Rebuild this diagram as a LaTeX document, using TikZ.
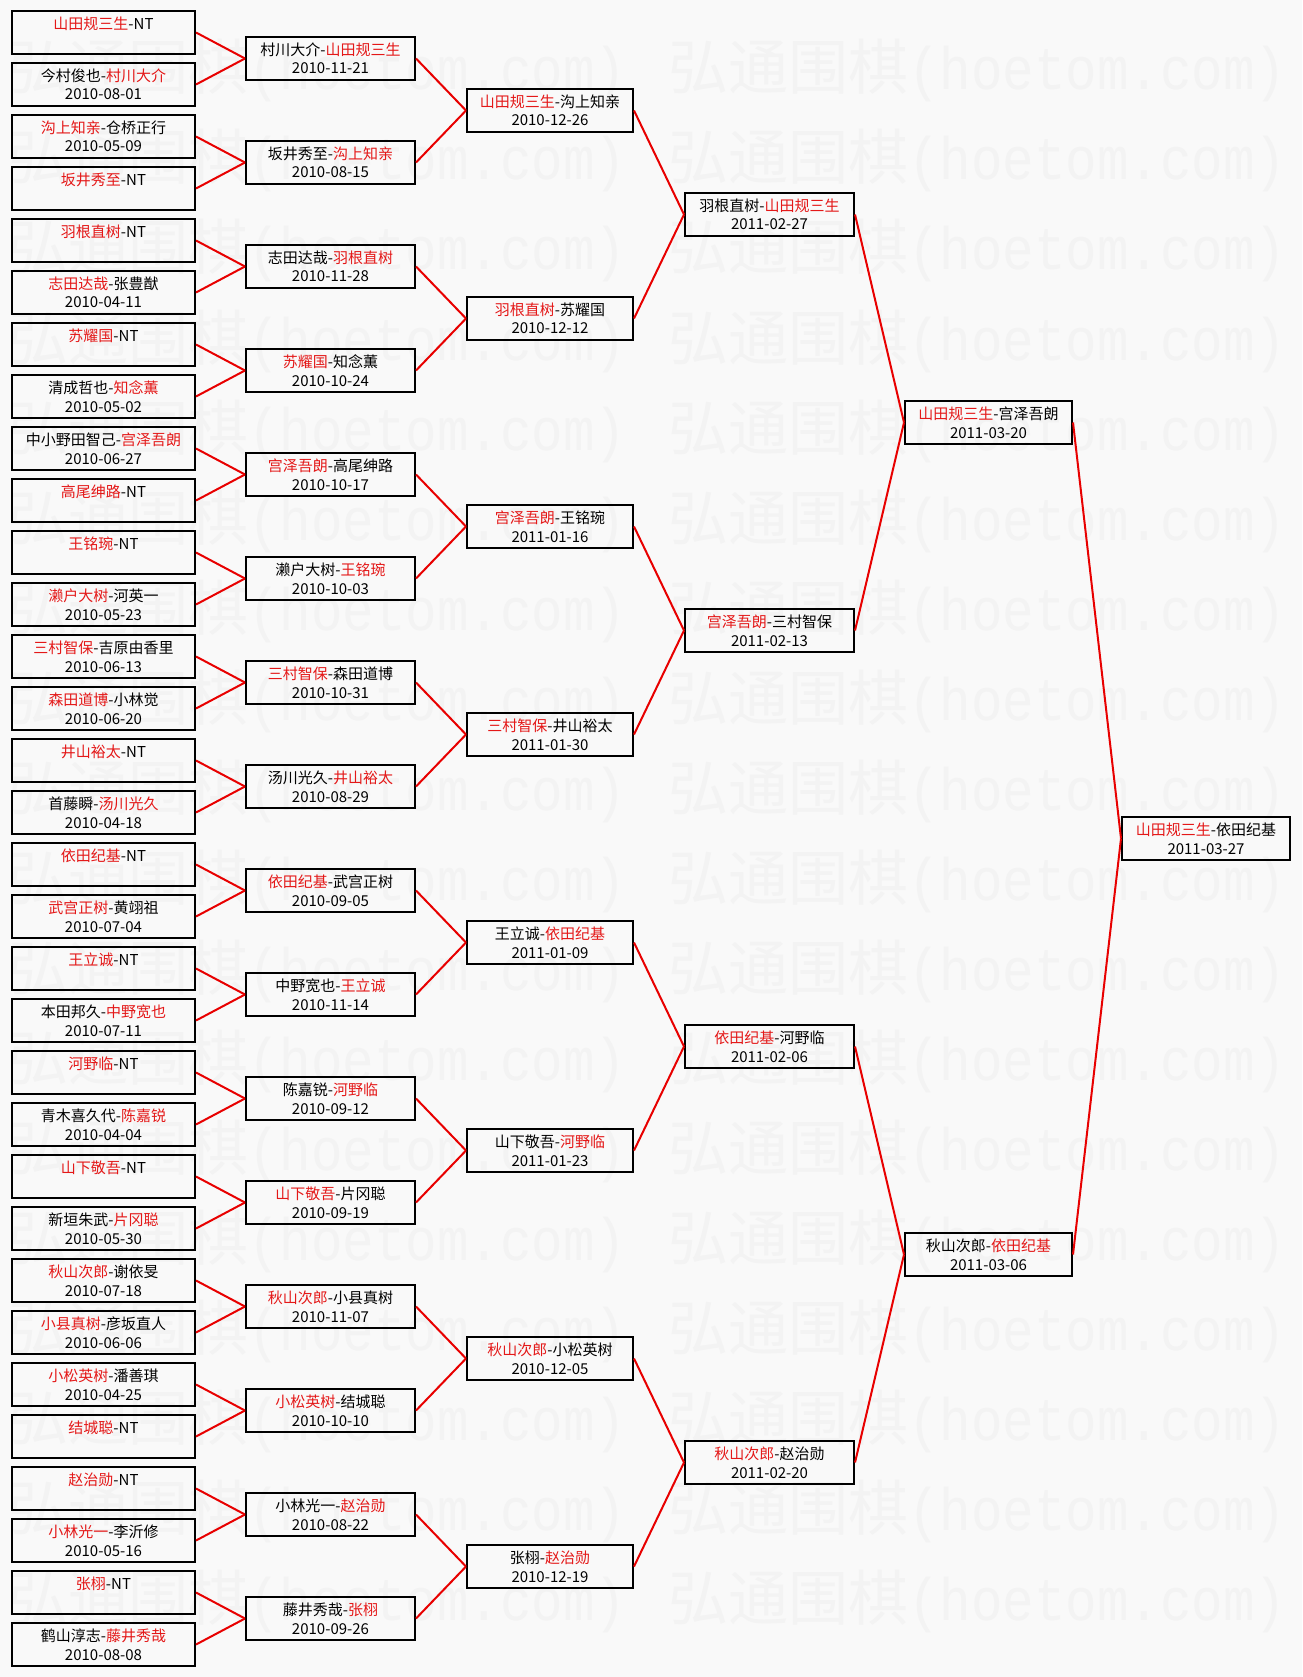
\documentclass[tikz,border=0pt]{standalone}
\usepackage{fontspec}
\setmainfont{Noto Sans CJK SC}
\newfontfamily\wmlat[FakeStretch=0.875]{Liberation Mono}
\definecolor{winred}{RGB}{228,24,24}
\definecolor{linered}{RGB}{232,0,0}
\definecolor{bgcol}{RGB}{249,249,249}
\definecolor{wmcol}{RGB}{243,243,243}
\newcommand\W[1]{\textcolor{winred}{#1}}
\newcommand\tl[2]{\rule{0pt}{18.5pt}#1\\#2\rule[-6pt]{0pt}{0pt}}
\newcommand\wmtext{弘通围棋{\wmlat (hoetom.com)}}
\tikzset{
  mbox/.style={draw=black, line width=2pt, minimum height=43pt, inner sep=0pt,
    align=center, font=\fontsize{15}{18.5}\selectfont},
  colA/.style={mbox, minimum width=183pt},
  colB/.style={mbox, minimum width=169pt},
  colC/.style={mbox, minimum width=166pt},
  colD/.style={mbox, minimum width=169pt},
  colE/.style={mbox, minimum width=167pt},
  colF/.style={mbox, minimum width=168pt},
  conn/.style={draw=linered, line width=2pt},
  wmark/.style={text=wmcol, inner sep=0pt, anchor=base west, font=\fontsize{60}{60}\selectfont}
}
\begin{document}
\begin{tikzpicture}[x=1pt,y=-1pt]
\useasboundingbox (0,0) rectangle (1302,1677);
\fill[bgcol] (0,0) rectangle (1302,1677);
% watermark
\foreach \k in {0,...,17} {
  \node[wmark] (wmL\k) at (8,{90+90*\k}) {\wmtext};
  \node[wmark] (wmR\k) at (668,{90+90*\k}) {\wmtext};
}
% column 1
\node[colA] (a1) at (103.5,32.5) {\tl{\W{山田规三生}-NT}{}};
\node[colA] (a2) at (103.5,84.5) {\tl{今村俊也-\W{村川大介}}{2010-08-01}};
\node[colA] (a3) at (103.5,136.5) {\tl{\W{沟上知亲}-仓桥正行}{2010-05-09}};
\node[colA] (a4) at (103.5,188.5) {\tl{\W{坂井秀至}-NT}{}};
\node[colA] (a5) at (103.5,240.5) {\tl{\W{羽根直树}-NT}{}};
\node[colA] (a6) at (103.5,292.5) {\tl{\W{志田达哉}-张豊猷}{2010-04-11}};
\node[colA] (a7) at (103.5,344.5) {\tl{\W{苏耀国}-NT}{}};
\node[colA] (a8) at (103.5,396.5) {\tl{清成哲也-\W{知念薫}}{2010-05-02}};
\node[colA] (a9) at (103.5,448.5) {\tl{中小野田智己-\W{宫泽吾朗}}{2010-06-27}};
\node[colA] (a10) at (103.5,500.5) {\tl{\W{高尾绅路}-NT}{}};
\node[colA] (a11) at (103.5,552.5) {\tl{\W{王铭琬}-NT}{}};
\node[colA] (a12) at (103.5,604.5) {\tl{\W{濑户大树}-河英一}{2010-05-23}};
\node[colA] (a13) at (103.5,656.5) {\tl{\W{三村智保}-吉原由香里}{2010-06-13}};
\node[colA] (a14) at (103.5,708.5) {\tl{\W{森田道博}-小林觉}{2010-06-20}};
\node[colA] (a15) at (103.5,760.5) {\tl{\W{井山裕太}-NT}{}};
\node[colA] (a16) at (103.5,812.5) {\tl{首藤瞬-\W{汤川光久}}{2010-04-18}};
\node[colA] (a17) at (103.5,864.5) {\tl{\W{依田纪基}-NT}{}};
\node[colA] (a18) at (103.5,916.5) {\tl{\W{武宫正树}-黄翊祖}{2010-07-04}};
\node[colA] (a19) at (103.5,968.5) {\tl{\W{王立诚}-NT}{}};
\node[colA] (a20) at (103.5,1020.5) {\tl{本田邦久-\W{中野宽也}}{2010-07-11}};
\node[colA] (a21) at (103.5,1072.5) {\tl{\W{河野临}-NT}{}};
\node[colA] (a22) at (103.5,1124.5) {\tl{青木喜久代-\W{陈嘉锐}}{2010-04-04}};
\node[colA] (a23) at (103.5,1176.5) {\tl{\W{山下敬吾}-NT}{}};
\node[colA] (a24) at (103.5,1228.5) {\tl{新垣朱武-\W{片冈聪}}{2010-05-30}};
\node[colA] (a25) at (103.5,1280.5) {\tl{\W{秋山次郎}-谢依旻}{2010-07-18}};
\node[colA] (a26) at (103.5,1332.5) {\tl{\W{小县真树}-彦坂直人}{2010-06-06}};
\node[colA] (a27) at (103.5,1384.5) {\tl{\W{小松英树}-潘善琪}{2010-04-25}};
\node[colA] (a28) at (103.5,1436.5) {\tl{\W{结城聪}-NT}{}};
\node[colA] (a29) at (103.5,1488.5) {\tl{\W{赵治勋}-NT}{}};
\node[colA] (a30) at (103.5,1540.5) {\tl{\W{小林光一}-李沂修}{2010-05-16}};
\node[colA] (a31) at (103.5,1592.5) {\tl{\W{张栩}-NT}{}};
\node[colA] (a32) at (103.5,1644.5) {\tl{鹤山淳志-\W{藤井秀哉}}{2010-08-08}};
% column 2
\node[colB] (b1) at (330.5,58.5) {\tl{村川大介-\W{山田规三生}}{2010-11-21}};
\node[colB] (b2) at (330.5,162.5) {\tl{坂井秀至-\W{沟上知亲}}{2010-08-15}};
\node[colB] (b3) at (330.5,266.5) {\tl{志田达哉-\W{羽根直树}}{2010-11-28}};
\node[colB] (b4) at (330.5,370.5) {\tl{\W{苏耀国}-知念薫}{2010-10-24}};
\node[colB] (b5) at (330.5,474.5) {\tl{\W{宫泽吾朗}-高尾绅路}{2010-10-17}};
\node[colB] (b6) at (330.5,578.5) {\tl{濑户大树-\W{王铭琬}}{2010-10-03}};
\node[colB] (b7) at (330.5,682.5) {\tl{\W{三村智保}-森田道博}{2010-10-31}};
\node[colB] (b8) at (330.5,786.5) {\tl{汤川光久-\W{井山裕太}}{2010-08-29}};
\node[colB] (b9) at (330.5,890.5) {\tl{\W{依田纪基}-武宫正树}{2010-09-05}};
\node[colB] (b10) at (330.5,994.5) {\tl{中野宽也-\W{王立诚}}{2010-11-14}};
\node[colB] (b11) at (330.5,1098.5) {\tl{陈嘉锐-\W{河野临}}{2010-09-12}};
\node[colB] (b12) at (330.5,1202.5) {\tl{\W{山下敬吾}-片冈聪}{2010-09-19}};
\node[colB] (b13) at (330.5,1306.5) {\tl{\W{秋山次郎}-小县真树}{2010-11-07}};
\node[colB] (b14) at (330.5,1410.5) {\tl{\W{小松英树}-结城聪}{2010-10-10}};
\node[colB] (b15) at (330.5,1514.5) {\tl{小林光一-\W{赵治勋}}{2010-08-22}};
\node[colB] (b16) at (330.5,1618.5) {\tl{藤井秀哉-\W{张栩}}{2010-09-26}};
% column 3
\node[colC] (c1) at (550,110.5) {\tl{\W{山田规三生}-沟上知亲}{2010-12-26}};
\node[colC] (c2) at (550,318.5) {\tl{\W{羽根直树}-苏耀国}{2010-12-12}};
\node[colC] (c3) at (550,526.5) {\tl{\W{宫泽吾朗}-王铭琬}{2011-01-16}};
\node[colC] (c4) at (550,734.5) {\tl{\W{三村智保}-井山裕太}{2011-01-30}};
\node[colC] (c5) at (550,942.5) {\tl{王立诚-\W{依田纪基}}{2011-01-09}};
\node[colC] (c6) at (550,1150.5) {\tl{山下敬吾-\W{河野临}}{2011-01-23}};
\node[colC] (c7) at (550,1358.5) {\tl{\W{秋山次郎}-小松英树}{2010-12-05}};
\node[colC] (c8) at (550,1566.5) {\tl{张栩-\W{赵治勋}}{2010-12-19}};
% column 4
\node[colD] (d1) at (769.5,214.5) {\tl{羽根直树-\W{山田规三生}}{2011-02-27}};
\node[colD] (d2) at (769.5,630.5) {\tl{\W{宫泽吾朗}-三村智保}{2011-02-13}};
\node[colD] (d3) at (769.5,1046.5) {\tl{\W{依田纪基}-河野临}{2011-02-06}};
\node[colD] (d4) at (769.5,1462.5) {\tl{\W{秋山次郎}-赵治勋}{2011-02-20}};
% column 5
\node[colE] (e1) at (988.5,422.5) {\tl{\W{山田规三生}-宫泽吾朗}{2011-03-20}};
\node[colE] (e2) at (988.5,1254.5) {\tl{秋山次郎-\W{依田纪基}}{2011-03-06}};
% final
\node[colF] (f1) at (1206,838.5) {\tl{\W{山田规三生}-依田纪基}{2011-03-27}};
% connectors
\foreach \i in {1,...,16} {
  \pgfmathtruncatemacro\j{2*\i-1}
  \pgfmathtruncatemacro\k{2*\i}
  \draw[conn] (a\j.east) -- (b\i.west);
  \draw[conn] (a\k.east) -- (b\i.west);
}
\foreach \i in {1,...,8} {
  \pgfmathtruncatemacro\j{2*\i-1}
  \pgfmathtruncatemacro\k{2*\i}
  \draw[conn] (b\j.east) -- (c\i.west);
  \draw[conn] (b\k.east) -- (c\i.west);
}
\foreach \i in {1,...,4} {
  \pgfmathtruncatemacro\j{2*\i-1}
  \pgfmathtruncatemacro\k{2*\i}
  \draw[conn] (c\j.east) -- (d\i.west);
  \draw[conn] (c\k.east) -- (d\i.west);
}
\foreach \i in {1,2} {
  \pgfmathtruncatemacro\j{2*\i-1}
  \pgfmathtruncatemacro\k{2*\i}
  \draw[conn] (d\j.east) -- (e\i.west);
  \draw[conn] (d\k.east) -- (e\i.west);
}
\draw[conn] (e1.east) -- (f1.west);
\draw[conn] (e2.east) -- (f1.west);
\end{tikzpicture}
\end{document}
